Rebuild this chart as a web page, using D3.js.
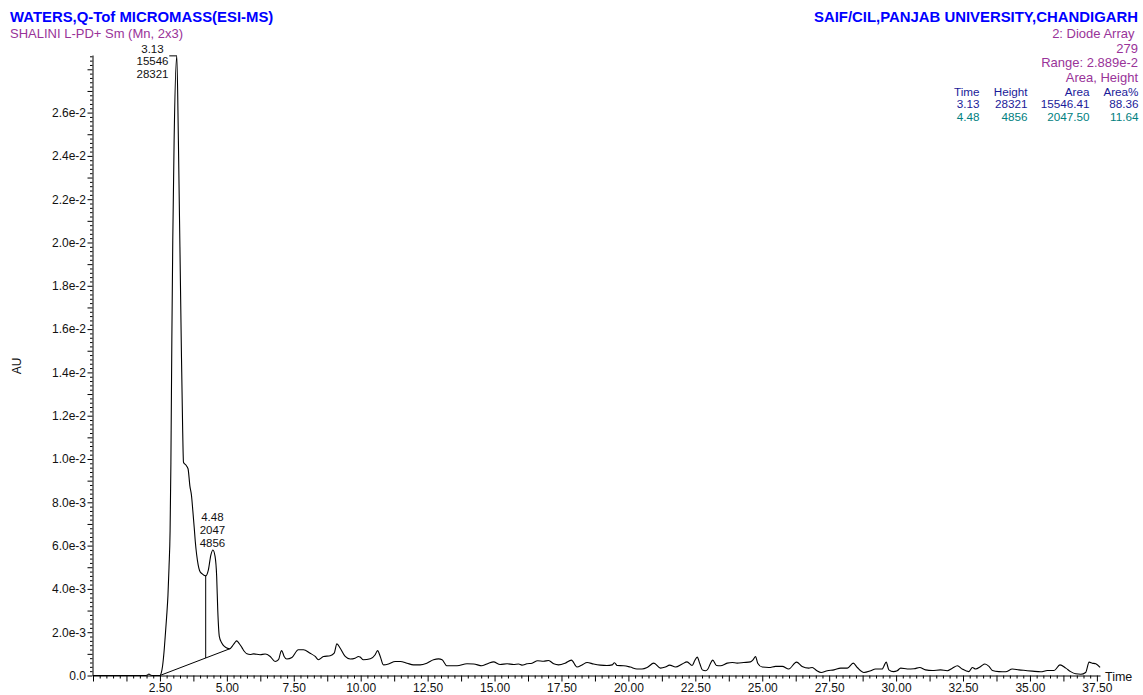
<!DOCTYPE html>
<html>
<head>
<meta charset="utf-8">
<script src="https://cdn.jsdelivr.net/npm/d3@7"></script>
<style>
  html, body { margin: 0; padding: 0; background: #fff; }
  svg { display: block; font-family: "Liberation Sans", Arial, sans-serif; }
</style>
</head>
<body>
<svg id="chart" width="1143" height="695"></svg>
<script>
// Retention time (min) and detector signal (in 1e-3 AU) of the diode array trace
const retentionTime = [
  0.00, 0.50, 1.00, 1.50, 1.90, 2.02, 2.09, 2.16, 2.25, 2.40, 2.50, 2.55, 2.60, 2.65, 2.70, 2.75,
  2.80, 2.84, 2.88, 2.91, 2.945, 2.98, 3.03, 3.13, 3.19, 3.29, 3.35, 3.38, 3.47, 3.55, 3.62, 3.68,
  3.73, 3.78, 3.82, 3.87, 3.93, 3.98, 4.07, 4.21, 4.31, 4.40, 4.48, 4.56, 4.62, 4.66, 4.72, 4.81,
  4.92, 5.00, 5.10, 5.20, 5.30, 5.37, 5.45, 5.56, 5.65, 5.75, 5.87, 5.99, 6.24, 6.43, 6.62, 6.80,
  6.93, 7.02, 7.05, 7.14, 7.24, 7.43, 7.67, 7.86, 8.11, 8.30, 8.42, 8.61, 8.86, 9.01, 9.11, 9.23,
  9.42, 9.61, 9.79, 9.92, 9.98, 10.10, 10.36, 10.54, 10.63, 10.73, 10.85, 11.04, 11.29, 11.48, 11.73, 11.97,
  12.22, 12.47, 12.72, 12.91, 13.04, 13.22, 13.60, 13.97, 14.22, 14.53, 14.78, 14.96, 15.21, 15.47, 15.71, 15.90,
  16.02, 16.21, 16.40, 16.61, 16.83, 17.02, 17.21, 17.39, 17.64, 17.87, 18.08, 18.27, 18.46, 18.70, 18.95, 19.20,
  19.39, 19.48, 19.58, 19.82, 20.07, 20.32, 20.51, 20.70, 20.95, 21.20, 21.38, 21.54, 21.76, 22.01, 22.19, 22.38,
  22.48, 22.57, 22.67, 22.76, 22.88, 22.97, 23.07, 23.15, 23.29, 23.44, 23.69, 23.88, 24.06, 24.31, 24.56, 24.66,
  24.75, 24.83, 25.00, 25.25, 25.50, 25.75, 25.99, 26.28, 26.49, 26.74, 26.87, 27.03, 27.20, 27.43, 27.68, 27.93,
  28.18, 28.40, 28.55, 28.80, 29.05, 29.23, 29.48, 29.54, 29.63, 29.73, 29.90, 30.04, 30.17, 30.42, 30.67, 30.88,
  31.10, 31.35, 31.66, 31.91, 32.10, 32.29, 32.47, 32.72, 32.85, 32.97, 33.16, 33.32, 33.47, 33.60, 33.84, 34.09,
  34.34, 34.59, 34.84, 35.09, 35.40, 35.65, 35.90, 36.12, 36.34, 36.52, 36.71, 36.90, 37.08, 37.21, 37.33, 37.46,
  37.62
];
const signalMilliAU = [
  0, 0, 0, 0, 0, 0.01, 0.07, 0.01, 0, 0, 0, 0.12, 0.45, 1.05, 1.85, 2.7,
  3.7, 5.0, 6.7, 9.8, 15.5, 20.1, 24.7, 28.62, 24.7, 16.0, 11.3, 9.85, 9.72, 9.55, 8.75, 8.3,
  7.6, 6.85, 6.2, 5.6, 5.1, 4.85, 4.7, 4.60, 4.88, 5.55, 5.80, 5.50, 4.57, 3.03, 1.80, 1.50,
  1.33, 1.27, 1.23, 1.35, 1.52, 1.60, 1.50, 1.30, 1.12, 1.00, 0.97, 1.00, 0.96, 0.99, 0.88, 0.65,
  0.73, 1.11, 1.15, 0.88, 0.76, 0.83, 1.19, 1.19, 1.03, 0.88, 0.73, 0.88, 0.91, 1.03, 1.46, 1.27,
  0.88, 0.76, 0.80, 0.88, 0.85, 0.73, 0.77, 0.96, 1.15, 0.88, 0.49, 0.53, 0.65, 0.65, 0.57, 0.49,
  0.49, 0.57, 0.73, 0.77, 0.73, 0.45, 0.45, 0.54, 0.53, 0.45, 0.57, 0.63, 0.51, 0.54, 0.51, 0.53,
  0.48, 0.54, 0.57, 0.68, 0.66, 0.69, 0.54, 0.49, 0.57, 0.71, 0.39, 0.49, 0.60, 0.53, 0.48, 0.46,
  0.49, 0.59, 0.46, 0.45, 0.39, 0.30, 0.30, 0.37, 0.57, 0.34, 0.39, 0.48, 0.39, 0.53, 0.63, 0.46,
  0.69, 0.85, 0.54, 0.26, 0.22, 0.30, 0.57, 0.71, 0.46, 0.45, 0.57, 0.60, 0.57, 0.60, 0.63, 0.73,
  0.88, 0.57, 0.39, 0.37, 0.42, 0.42, 0.30, 0.62, 0.42, 0.34, 0.37, 0.23, 0.14, 0.22, 0.26, 0.34,
  0.34, 0.57, 0.37, 0.14, 0.22, 0.30, 0.30, 0.42, 0.62, 0.26, 0.18, 0.22, 0.34, 0.30, 0.31, 0.37,
  0.26, 0.23, 0.26, 0.22, 0.34, 0.45, 0.30, 0.18, 0.37, 0.30, 0.42, 0.53, 0.42, 0.23, 0.18, 0.17,
  0.30, 0.26, 0.23, 0.20, 0.17, 0.23, 0.23, 0.49, 0.34, 0.18, 0.08, 0.06, 0.14, 0.62, 0.57, 0.54,
  0.37
];

// Integrated peaks
const peakTimes = [3.13, 4.48];
const peakHeights = [28321, 4856];
const peakAreas = [15546.41, 2047.50];
const peakAreaPercents = [88.36, 11.64];

// Integration baseline (min, 1e-3 AU) and the drop line separating the two peaks
const baselineTimes = [2.50, 5.10];
const baselineMilliAU = [0, 1.23];
const dropLineTime = 4.21;

// Axis ticks
const xLabelTicks = [2.5, 5, 7.5, 10, 12.5, 15, 17.5, 20, 22.5, 25, 27.5, 30, 32.5, 35, 37.5];
const yLabelTicksMilliAU = [0, 2, 4, 6, 8, 10, 12, 14, 16, 18, 20, 22, 24, 26];

// Header texts
const titleLeft = "WATERS,Q-Tof MICROMASS(ESI-MS)";
const subtitleLeft = "SHALINI L-PD+ Sm (Mn, 2x3)";
const titleRight = "SAIF/CIL,PANJAB UNIVERSITY,CHANDIGARH";
const infoRight = ["2: Diode Array", "279", "Range: 2.889e-2", "Area, Height"];
const tableHeader = ["Time", "Height", "Area", "Area%"];

const svg = d3.select("#chart");
const BLUE = "#0000ff", PURPLE = "#993399", NAVY = "#1a1a99", TEAL = "#008080";

const x = d3.scaleLinear().domain([0, 37.62]).range([93, 93 + 37.62 * 26.77]);
const y = d3.scaleLinear().domain([0, 0.02866]).range([675.5, 55]);

// ---- header
svg.append("text").attr("x", 10).attr("y", 22).attr("fill", BLUE)
  .attr("font-size", 14.9).attr("font-weight", "bold").text(titleLeft);
svg.append("text").attr("x", 10).attr("y", 38.3).attr("fill", PURPLE)
  .attr("font-size", 13).text(subtitleLeft);
svg.append("text").attr("x", 1138).attr("y", 22).attr("fill", BLUE).attr("text-anchor", "end")
  .attr("font-size", 14.9).attr("font-weight", "bold").text(titleRight);
const infoY = [38, 52.5, 67, 81.5];
const infoX = [1134.5, 1138, 1138, 1138];
infoRight.forEach((t, i) => {
  svg.append("text").attr("x", infoX[i]).attr("y", infoY[i]).attr("fill", PURPLE)
    .attr("text-anchor", "end").attr("font-size", 13).text(t);
});

// peak table
const colX = [979.5, 1027.5, 1089.5, 1138.5];
const tableRows = [tableHeader].concat(peakTimes.map((t, i) => [
  t.toFixed(2), String(peakHeights[i]), peakAreas[i].toFixed(2), peakAreaPercents[i].toFixed(2)
]));
const rowY = [95.7, 108, 121];
const rowColor = [NAVY, NAVY, TEAL];
tableRows.forEach((row, r) => {
  row.forEach((cell, c) => {
    svg.append("text").attr("x", colX[c]).attr("y", rowY[r]).attr("fill", rowColor[r])
      .attr("text-anchor", "end").attr("font-size", 11.7).text(cell);
  });
});

// ---- axes
const xAxisY = y(0);
const xMajor = d3.range(0, 31).map(i => i * 1.25);
const xMinor = d3.range(0, 151).map(i => i * 0.25).filter(v => Math.abs(v / 1.25 - Math.round(v / 1.25)) > 1e-6);

svg.append("g").attr("transform", `translate(0,${xAxisY})`)
  .call(d3.axisBottom(x).tickValues(xMinor).tickSize(3).tickSizeOuter(0).tickFormat(""))
  .call(g => g.select(".domain").remove());
const gx = svg.append("g").attr("transform", `translate(0,${xAxisY})`)
  .call(d3.axisBottom(x).tickValues(xMajor).tickSize(6).tickSizeOuter(0).tickPadding(2.2)
    .tickFormat(v => xLabelTicks.some(l => Math.abs(l - v) < 1e-6) ? v.toFixed(2) : ""));
gx.selectAll("text").attr("font-size", 12).attr("fill", "#111").attr("font-family", null);
gx.selectAll("line, path").attr("stroke", "#000");

const yMinor = d3.range(0, 144).map(i => i * 2e-4).filter(v => v <= 0.02866 && Math.abs(v / 1e-3 - Math.round(v / 1e-3)) > 1e-6);
const yMajor = d3.range(0, 29).map(i => i * 1e-3);
svg.append("g").attr("transform", "translate(92.5,0)")
  .call(d3.axisLeft(y).tickValues(yMinor).tickSize(2.5).tickSizeOuter(0).tickFormat(""))
  .call(g => g.select(".domain").remove());
const gy = svg.append("g").attr("transform", "translate(92.5,0)")
  .call(d3.axisLeft(y).tickValues(yMajor).tickSize(5).tickSizeOuter(0).tickPadding(1.5)
    .tickFormat(v => {
      const m = Math.round(v * 1000);
      if (!yLabelTicksMilliAU.includes(m)) return "";
      return m === 0 ? "0.0" : (m / 1000).toExponential(1);
    }));
gy.selectAll("text").attr("font-size", 12).attr("fill", "#111").attr("font-family", null);
gy.selectAll("line, path").attr("stroke", "#000");

svg.append("text").attr("transform", "translate(21,366) rotate(-90)").attr("text-anchor", "middle")
  .attr("font-size", 12).attr("fill", "#111").text("AU");
svg.append("text").attr("x", 1105).attr("y", 681).attr("font-size", 12.5).attr("fill", "#111").text("Time");

// ---- trace
const points = retentionTime.map((t, i) => ({ t, v: signalMilliAU[i] / 1000 }));
const line = d3.line().x(d => x(d.t)).y(d => y(d.v)).curve(d3.curveMonotoneX);
svg.append("path").datum(points).attr("d", line)
  .attr("fill", "none").attr("stroke", "#000").attr("stroke-width", 1.1);

// ---- integration baseline and drop line
const baseline = d3.scaleLinear().domain(baselineTimes).range(baselineMilliAU.map(v => v / 1000));
svg.append("line")
  .attr("x1", x(baselineTimes[0])).attr("y1", y(baselineMilliAU[0] / 1000))
  .attr("x2", x(baselineTimes[1])).attr("y2", y(baselineMilliAU[1] / 1000))
  .attr("stroke", "#000").attr("stroke-width", 1);
const dropIdx = retentionTime.findIndex(t => Math.abs(t - dropLineTime) < 1e-6);
svg.append("line")
  .attr("x1", x(dropLineTime)).attr("y1", y(signalMilliAU[dropIdx] / 1000))
  .attr("x2", x(dropLineTime)).attr("y2", y(baseline(dropLineTime)))
  .attr("stroke", "#000").attr("stroke-width", 1);

// ---- peak labels: time, area, height
const lineGap = 12.8;
peakTimes.forEach((t, i) => {
  const idx = retentionTime.findIndex(r => Math.abs(r - t) < 1e-6);
  const ax = x(t), ay = y(signalMilliAU[idx] / 1000);
  const lines = [t.toFixed(2), String(Math.floor(peakAreas[i])), String(peakHeights[i])];
  let cx = ax - 0.5, y0 = ay - 3 - 2 * lineGap;
  if (y0 < 52.5) {
    // no room above the apex: put the label to the left with a short leader
    cx = ax - 24.3; y0 = 52.5;
    svg.append("line").attr("x1", ax - 7.5).attr("y1", ay).attr("x2", ax).attr("y2", ay)
      .attr("stroke", "#000").attr("stroke-width", 1);
  }
  lines.forEach((s, k) => {
    svg.append("text").attr("x", cx).attr("y", y0 + k * lineGap).attr("text-anchor", "middle")
      .attr("font-size", 11.5).attr("fill", "#111").text(s);
  });
});
</script>
</body>
</html>
